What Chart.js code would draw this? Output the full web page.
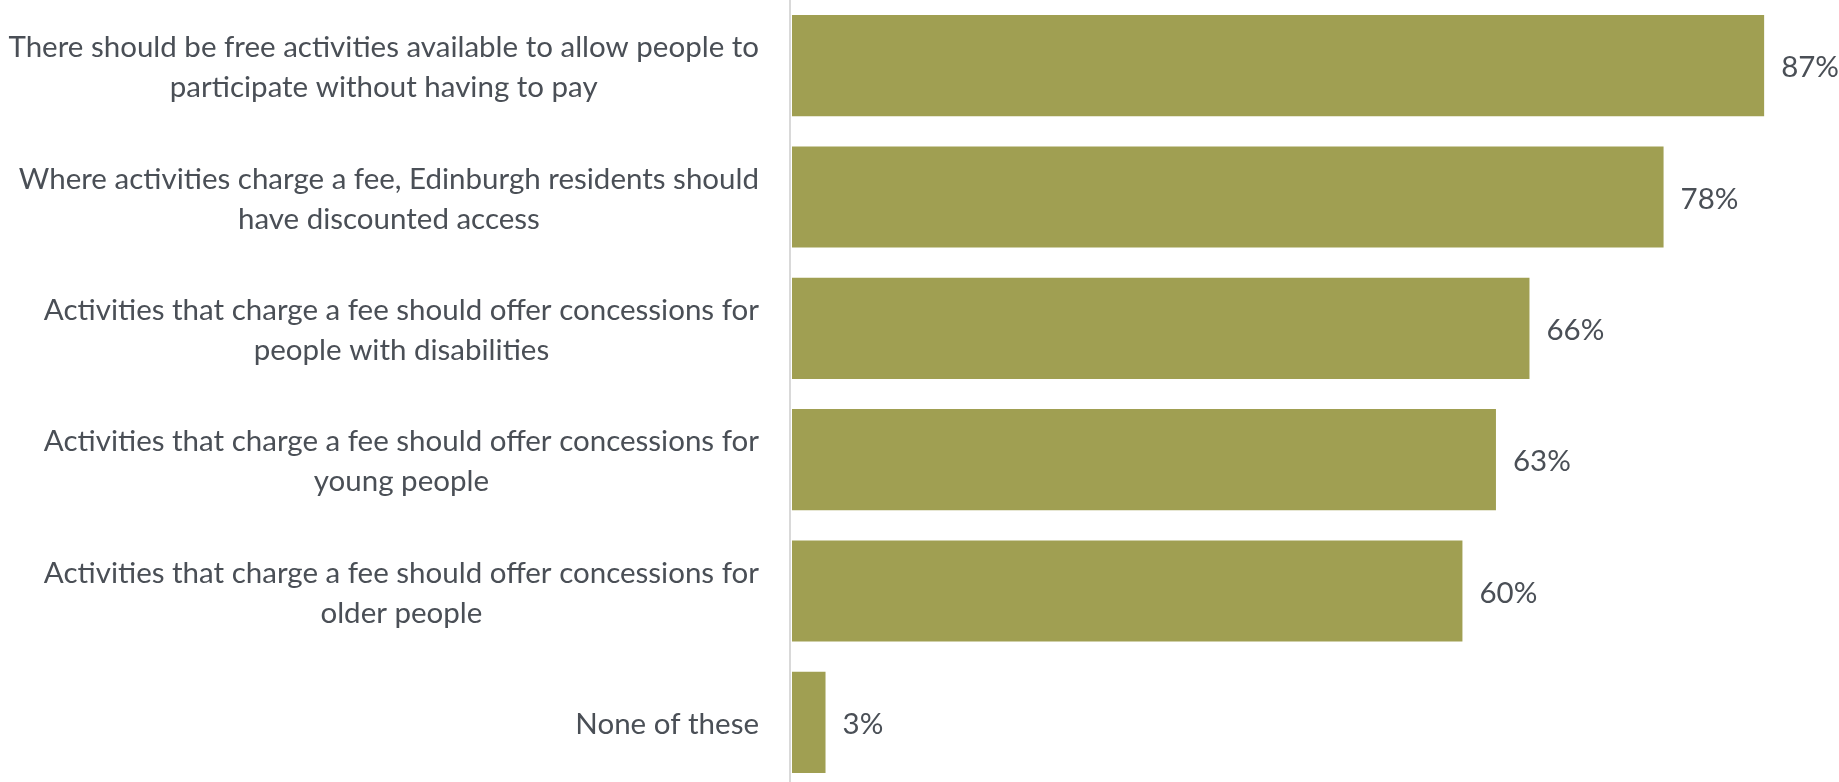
<!DOCTYPE html>
<html>
<head>
<meta charset="utf-8">
<script src="https://cdn.jsdelivr.net/npm/chart.js@4.4.1/dist/chart.umd.min.js"></script>
<style>
  html, body { margin: 0; padding: 0; background: #fff; overflow: hidden; }
  #wrap { width: 1839px; height: 788px; position: relative; }
</style>
</head>
<body>
<div id="wrap"><canvas id="chart"></canvas></div>
<script>
const categories = [
    ['There should be free activities available to allow people to', 'participate without having to pay'],
    ['Where activities charge a fee, Edinburgh residents should', 'have discounted access'],
    ['Activities that charge a fee should offer concessions for', 'people with disabilities'],
    ['Activities that charge a fee should offer concessions for', 'young people'],
    ['Activities that charge a fee should offer concessions for', 'older people'],
    ['None of these']
];
const values = [87, 78, 66, 63, 60, 3];

const textColor = '#4a4f56';
const fontFamily = 'Lato, "Open Sans", sans-serif';
const fontSize = 29.5;
const lineGap = 40;

// category labels: block right-aligned, lines centred inside the block
const categoryLabels = {
    id: 'categoryLabels',
    afterDraw(chart) {
        const ctx = chart.ctx;
        const yScale = chart.scales.y;
        const right = chart.chartArea.left - 33;
        ctx.save();
        ctx.font = fontSize + 'px ' + fontFamily;
        ctx.fillStyle = textColor;
        ctx.textAlign = 'center';
        ctx.textBaseline = 'middle';
        categories.forEach((lines, i) => {
            const w = Math.max(...lines.map(l => ctx.measureText(l).width));
            const cx = right - w / 2;
            const cy = yScale.getPixelForValue(i) + 2;
            const y0 = cy - (lines.length - 1) * lineGap / 2;
            lines.forEach((l, j) => ctx.fillText(l, cx, y0 + j * lineGap));
        });
        ctx.restore();
    }
};

// value labels to the right of each bar
const valueLabels = {
    id: 'valueLabels',
    afterDatasetsDraw(chart) {
        const ctx = chart.ctx;
        const meta = chart.getDatasetMeta(0);
        ctx.save();
        ctx.font = fontSize + 'px ' + fontFamily;
        ctx.fillStyle = textColor;
        ctx.textAlign = 'left';
        ctx.textBaseline = 'middle';
        meta.data.forEach((bar, i) => {
            ctx.fillText(values[i] + '%', bar.x + 17, bar.y + 2);
        });
        ctx.restore();
    }
};

// vertical axis line at zero, full height
const zeroLine = {
    id: 'zeroLine',
    beforeDatasetsDraw(chart) {
        const ctx = chart.ctx;
        const x = chart.scales.x.getPixelForValue(0) - 2;
        ctx.save();
        ctx.strokeStyle = '#d9d9d9';
        ctx.lineWidth = 2;
        ctx.beginPath();
        ctx.moveTo(x, 0);
        ctx.lineTo(x, chart.height);
        ctx.stroke();
        ctx.restore();
    }
};

new Chart(document.getElementById('chart'), {
    type: 'bar',
    data: {
        labels: categories.map(c => c.join(' ')),
        datasets: [{
            data: values,
            backgroundColor: '#a09f52',
            borderWidth: 0,
            barPercentage: 0.77,
            categoryPercentage: 1
        }]
    },
    options: {
        indexAxis: 'y',
        responsive: true,
        maintainAspectRatio: false,
        animation: false,
        layout: { padding: 0 },
        plugins: { legend: { display: false }, tooltip: { enabled: false } },
        scales: {
            x: {
                display: false,
                min: 0,
                max: 93.7
            },
            y: {
                grid: { display: false },
                border: { display: false },
                ticks: { display: false },
                afterFit(scale) {
                    scale.width = 792;
                    scale.paddingTop = 0;
                    scale.paddingBottom = 0;
                }
            }
        }
    },
    plugins: [valueLabels, zeroLine, categoryLabels]
});
</script>
</body>
</html>
